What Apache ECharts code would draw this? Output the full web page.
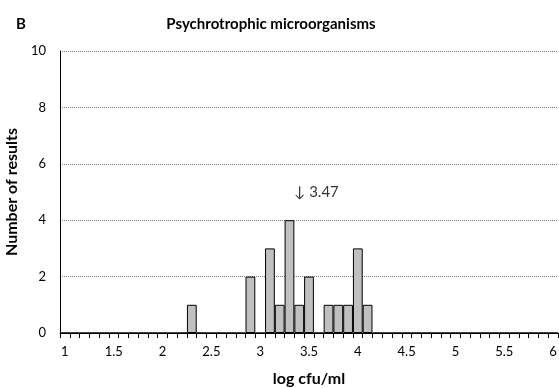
<!DOCTYPE html>
<html>
<head>
<meta charset="utf-8">
<script src="https://cdn.jsdelivr.net/npm/echarts@6/dist/echarts.min.js"></script>
<style>
  html, body { margin: 0; padding: 0; background: #fff; }
  #chart { width: 559px; height: 388px; }
</style>
</head>
<body>
<div id="chart"></div>
<script>
// Histogram bins: log cfu/ml from 1 to 6 in steps of 0.1
const bins = ['1','1.1','1.2','1.3','1.4','1.5','1.6','1.7','1.8','1.9',
  '2','2.1','2.2','2.3','2.4','2.5','2.6','2.7','2.8','2.9',
  '3','3.1','3.2','3.3','3.4','3.5','3.6','3.7','3.8','3.9',
  '4','4.1','4.2','4.3','4.4','4.5','4.6','4.7','4.8','4.9',
  '5','5.1','5.2','5.3','5.4','5.5','5.6','5.7','5.8','5.9','6'];

// Number of results per bin (non-zero bins only)
const occupiedBins = ['2.3','2.9','3.1','3.2','3.3','3.4','3.5','3.7','3.8','3.9','4','4.1'];
const occupiedCounts = [1, 2, 3, 1, 4, 1, 2, 1, 1, 1, 3, 1];

// Mean value marker
const meanValue = 3.47;
const meanLevel = 5;

const counts = bins.map(b => {
  const i = occupiedBins.indexOf(b);
  return i >= 0 ? occupiedCounts[i] : 0;
});

const font = 'Lato, "Open Sans", sans-serif';
const chart = echarts.init(document.getElementById('chart'), null, { renderer: 'canvas' });

chart.setOption({
  animation: false,
  textStyle: { fontFamily: font },
  title: [
    { text: 'Psychrotrophic microorganisms', left: 266, top: 12, textAlign: 'center',
      textStyle: { fontFamily: font, fontSize: 15, fontWeight: 'bold', color: '#000' } },
    { text: 'B', left: 11, top: 12,
      textStyle: { fontFamily: font, fontSize: 15, fontWeight: 'bold', color: '#000' } }
  ],
  grid: { left: 60, right: 1, top: 51, bottom: 55, containLabel: false, outerBoundsMode: 'none' },
  xAxis: [
    {
      type: 'category',
      data: bins,
      boundaryGap: true,
      name: 'log cfu/ml',
      nameLocation: 'middle',
      nameGap: 38,
      nameTextStyle: { fontFamily: font, fontSize: 16, fontWeight: 'bold', color: '#000' },
      axisLine: { lineStyle: { color: '#000', width: 1 } },
      axisTick: { show: true, interval: 0, length: 5, lineStyle: { color: '#000' } },
      axisLabel: { interval: 4, margin: 12, fontFamily: font, fontSize: 13, color: '#000' },
      splitLine: { show: false }
    },
    {
      type: 'value',
      min: 0.95,
      max: 6.05,
      show: false
    }
  ],
  yAxis: {
    type: 'value',
    min: 0,
    max: 10,
    interval: 2,
    name: 'Number of results',
    nameLocation: 'middle',
    nameGap: 38,
    nameTextStyle: { fontFamily: font, fontSize: 16, fontWeight: 'bold', color: '#000' },
    axisLine: { show: true, lineStyle: { color: '#000', width: 1 } },
    axisTick: { show: false },
    axisLabel: { margin: 14, fontFamily: font, fontSize: 13, color: '#000' },
    splitLine: { show: true, lineStyle: { color: '#777', type: 'dotted', width: 1 } }
  },
  series: [
    {
      type: 'bar',
      xAxisIndex: 0,
      data: counts,
      barCategoryGap: '0%',
      itemStyle: { color: '#c0c0c0', borderColor: '#000', borderWidth: 1 }
    },
    {
      type: 'scatter',
      xAxisIndex: 1,
      data: [[meanValue, meanLevel]],
      symbolSize: 0,
      silent: true,
      label: {
        show: true,
        position: 'inside',
        align: 'left',
        offset: [-12, 0],
        formatter: '\u2193 ' + meanValue.toFixed(2),
        fontFamily: font,
        fontSize: 15,
        color: '#000'
      }
    }
  ]
});
</script>
</body>
</html>
